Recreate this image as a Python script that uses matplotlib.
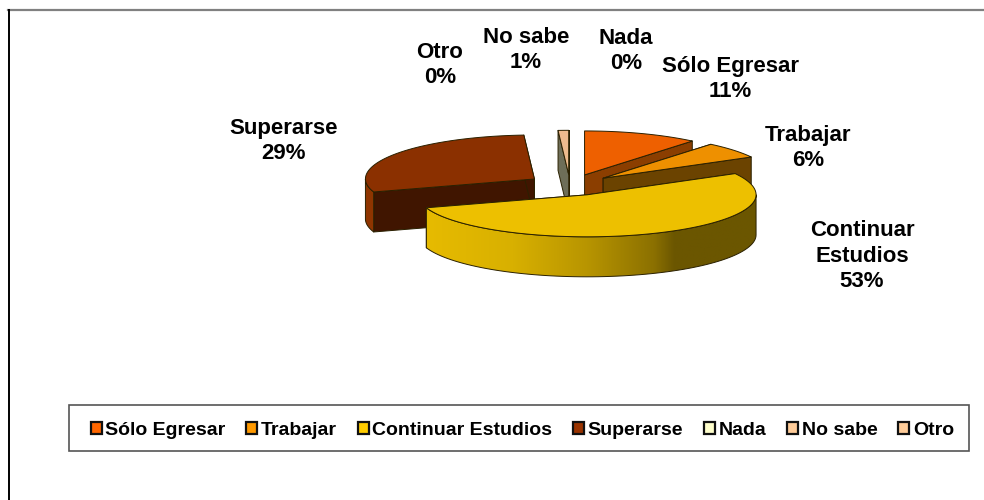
#!/usr/bin/env python3
"""
Exploded 3D style pie chart, drawn by hand because matplotlib has no 3D pie
"""

import numpy as np
import matplotlib.pyplot as plt
from matplotlib.colors import LinearSegmentedColormap
from matplotlib.patches import Polygon, Rectangle

names = ['Sólo Egresar', 'Trabajar', 'Continuar Estudios', 'Superarse', 'Nada', 'No sabe', 'Otro']
values = [11, 6, 53, 29, 0, 1, 0]

legend_colors = ['#FF6600', '#FF9900', '#FFCC00', '#993300', '#FFFFCC', '#FFCC99', '#FFCC99']
top_colors = ['#EE6000', '#EE9000', '#EDC000', '#8B3000', '#EEEEBB', '#EDBB8E', '#EDBB8E']
side_colors = ['#8B3E00', '#6B4300', '#6B5600', '#401500', '#777766', '#6E6E58', '#6E6E58']
outer_colors = ['#8B3E00', '#6B4300', None, '#8F3500', '#777766', '#6E6E58', '#6E6E58']

# Back to front
draw_order = [0, 5, 1, 3, 2]

label_text = ['Sólo Egresar\n11%', 'Trabajar\n6%', 'Continuar\nEstudios\n53%', 'Superarse\n29%',
              'Nada\n0%', 'No sabe\n1%', 'Otro\n0%']
label_x = [730, 808, 862, 284, 626, 526, 440]
label_y = [79, 148, 256, 141, 51, 50, 65]

# Pie geometry in pixels, the back of the rim is a bit taller than the front
cx, cy = 570, 185
rx, ry = 169, 42
ry_back = 44
depth = 40
explode = 43

shade = LinearSegmentedColormap.from_list('shade', [(0, '#E8BC00'), (0.28, '#D8B000'), (0.5, '#B89500'),
                                                    (0.7, '#8B7000'), (0.76, '#6B5600'), (1, '#6B5600')])

plt.rcParams['font.family'] = ['Liberation Sans', 'DejaVu Sans']
plt.rcParams['font.weight'] = 'bold'

fig = plt.figure(figsize=(9.84, 5), dpi=100)
ax = fig.add_axes([0, 0, 1, 1])


def rim(theta, x0, y0):
    c = np.cos(theta)
    return np.column_stack([x0 + rx * np.sin(theta), y0 - np.where(c > 0, ry_back, ry) * c])


edge = dict(edgecolor='#2A2000', linewidth=0.7, joinstyle='round')
fracs = np.cumsum([0] + values) / sum(values) * 2 * np.pi
z = 2

for i in draw_order:
    a0, a1 = fracs[i], fracs[i + 1]
    mid = (a0 + a1) / 2
    x0 = cx + explode * np.sin(mid)
    y0 = cy - explode * ry / rx * np.cos(mid)
    apex = np.array([x0, y0])
    down = np.array([0, depth])

    # Radial faces
    for a in (a0, a1):
        tip = rim(np.array([a]), x0, y0)[0]
        ax.add_patch(Polygon([apex, tip, tip + down, apex + down], facecolor=side_colors[i], zorder=z, **edge))
        z += 1

    # Outer wall, only the front half of the rim shows
    lo, hi = max(a0, np.pi / 2), min(a1, 3 * np.pi / 2)
    if hi > lo:
        arc = rim(np.linspace(lo, hi, 80), x0, y0)
        wall = np.vstack([arc, arc[::-1] + down])
        if outer_colors[i] is None:
            patch = Polygon(wall, facecolor='none', zorder=z + 1, **edge)
            ax.add_patch(patch)
            grad = ax.imshow(np.linspace(0, 1, 256)[None, :], cmap=shade, aspect='auto', zorder=z,
                             extent=[x0 - rx, x0 + rx, y0 + ry + depth, y0 - ry])
            grad.set_clip_path(patch)
        else:
            ax.add_patch(Polygon(wall, facecolor=outer_colors[i], zorder=z, **edge))
        z += 2

    # Top face
    top = np.vstack([apex, rim(np.linspace(a0, a1, 120), x0, y0)])
    ax.add_patch(Polygon(top, facecolor=top_colors[i], zorder=z, **edge))
    z += 1

for x, y, s in zip(label_x, label_y, label_text):
    ax.text(x, y, s, ha='center', va='center', fontsize=16, fontweight='bold', linespacing=1.31, zorder=z)

# Legend, the box is separate because its side padding differs from its top padding
ax.add_patch(Rectangle((69, 405), 900, 46, facecolor='white', edgecolor='#555555', linewidth=1.2, zorder=z))
handles = [Rectangle((0, 0), 1, 1, facecolor=c, edgecolor='#111111', linewidth=1.6) for c in legend_colors]
leg = ax.legend(handles, names, ncol=7, loc='center', bbox_to_anchor=(522.5, 430.5), bbox_transform=ax.transData,
                frameon=False, fontsize=14, handlelength=0.55, handleheight=0.55, handletextpad=0.2,
                columnspacing=1.07, borderpad=0, borderaxespad=0)
leg.set_zorder(z + 1)

# Chart area frame, only the top and left are in the picture
ax.plot([8, 984], [9.5, 9.5], color='#808080', linewidth=1.6, zorder=1)
ax.plot([8.5, 8.5], [10, 500], color='black', linewidth=1.4, zorder=1)

ax.set_xlim(0, 984)
ax.set_ylim(500, 0)
ax.axis('off')

fig.savefig('out.png', dpi=100)
